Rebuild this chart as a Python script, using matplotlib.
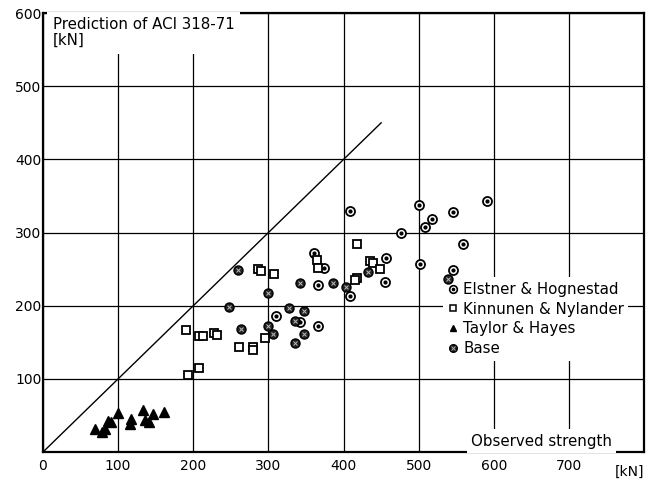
import matplotlib
matplotlib.use("Agg")
import matplotlib.pyplot as plt
from matplotlib.lines import Line2D
from matplotlib.legend_handler import HandlerTuple

# values (kN): observed strength, predicted strength
elstner_x = [360, 374, 366, 310, 342, 366, 409, 501, 517, 545, 508, 477, 559, 502, 545, 457, 455, 409, 591]
elstner_y = [272, 252, 228, 186, 178, 172, 329, 337, 319, 328, 308, 300, 284, 257, 249, 265, 233, 213, 343]

kinnunen_x = [190, 207, 213, 228, 232, 261, 280, 280, 295, 208, 193, 286, 290, 307, 365, 366, 418, 435, 439, 448, 418, 415]
kinnunen_y = [167, 158, 158, 163, 160, 144, 144, 139, 156, 115, 106, 250, 247, 244, 263, 251, 284, 261, 258, 250, 238, 235]

taylor_x = [69, 79, 82, 86, 91, 100, 117, 116, 133, 136, 141, 147, 161]
taylor_y = [32, 27, 31, 43, 41, 54, 45, 39, 57, 44, 41, 52, 55]

base_x = [260, 342, 386, 299, 248, 327, 347, 263, 299, 306, 347, 336, 336, 432, 403, 539]
base_y = [249, 231, 231, 217, 198, 197, 193, 168, 172, 161, 161, 149, 179, 246, 226, 236]

x_ticks = [0, 100, 200, 300, 400, 500, 600, 700]
y_ticks = [100, 200, 300, 400, 500, 600]
line_end = 450

fig = plt.figure(figsize=(6.58, 4.84), dpi=100)
ax = fig.add_axes([0.0653, 0.066, 0.9137, 0.907])
ax.set_xlim(0, 800)
ax.set_ylim(0, 600)

ax.set_xticks(x_ticks)
ax.set_yticks(y_ticks)
ax.tick_params(length=0, labelsize=10, colors="black")
ax.tick_params(axis="y", pad=1)
ax.tick_params(axis="x", pad=5)
ax.grid(True, color="black", linewidth=0.9)
ax.set_axisbelow(True)
for s in ax.spines.values():
    s.set_linewidth(1.6)

ax.plot([0, line_end], [0, line_end], color="black", lw=1.0, zorder=2)

# Elstner & Hognestad: open circle with a dot
ax.plot(elstner_x, elstner_y, "o", ms=6.5, mfc="white", mec="black", mew=1.3, ls="none", zorder=7)
ax.plot(elstner_x, elstner_y, "o", ms=2, mfc="black", mec="black", ls="none", zorder=8)
# Kinnunen & Nylander: open squares
ax.plot(kinnunen_x, kinnunen_y, "s", ms=5.5, mfc="white", mec="black", mew=1.3, ls="none", zorder=7)
# Taylor & Hayes: filled triangles
ax.plot(taylor_x, taylor_y, "^", ms=6.5, color="black", ls="none", zorder=7)
# Base: dark circle with cross
ax.plot(base_x, base_y, "o", ms=6.5, mfc="#222222", mec="black", mew=1.0, ls="none", zorder=7)
ax.plot(base_x, base_y, "x", ms=3.2, mec="#bbbbbb", mew=0.7, ls="none", zorder=8)

h_e = (Line2D([], [], marker="o", ms=5.5, mfc="white", mec="black", mew=1.2, ls="none"),
       Line2D([], [], marker="o", ms=1.6, mfc="black", mec="black", ls="none"))
h_k = Line2D([], [], marker="s", ms=4.5, mfc="white", mec="black", mew=1.1, ls="none")
h_t = Line2D([], [], marker="^", ms=5, color="black", ls="none")
h_b = (Line2D([], [], marker="o", ms=5.5, mfc="#222222", mec="black", ls="none"),
       Line2D([], [], marker="x", ms=2.6, mec="#bbbbbb", mew=0.6, ls="none"))
leg = ax.legend([h_e, h_k, h_t, h_b],
                ["Elstner & Hognestad", "Kinnunen & Nylander", "Taylor & Hayes", "Base"],
                handler_map={tuple: HandlerTuple(ndivide=1, pad=0)},
                loc="upper left", bbox_to_anchor=(0.665, 0.398), borderaxespad=0,
                frameon=True, fancybox=False, framealpha=1, facecolor="white", edgecolor="none",
                handlelength=0.7, handletextpad=0.35, labelspacing=0.32, fontsize=10.8,
                borderpad=0.3)
leg.set_zorder(5)

ax.text(13, 594, "Prediction of ACI 318-71\n[kN]", fontsize=10.8, ha="left", va="top",
        linespacing=1.05, zorder=6,
        bbox=dict(facecolor="white", edgecolor="none", pad=4))
ax.text(757, 15, "Observed strength", fontsize=10.8, ha="right", va="center", zorder=6,
        bbox=dict(facecolor="white", edgecolor="none", pad=3))
ax.text(780, -0.03, "[kN]", fontsize=10, ha="center", va="top",
        transform=ax.get_xaxis_transform())

fig.savefig("out.png", dpi=100)
